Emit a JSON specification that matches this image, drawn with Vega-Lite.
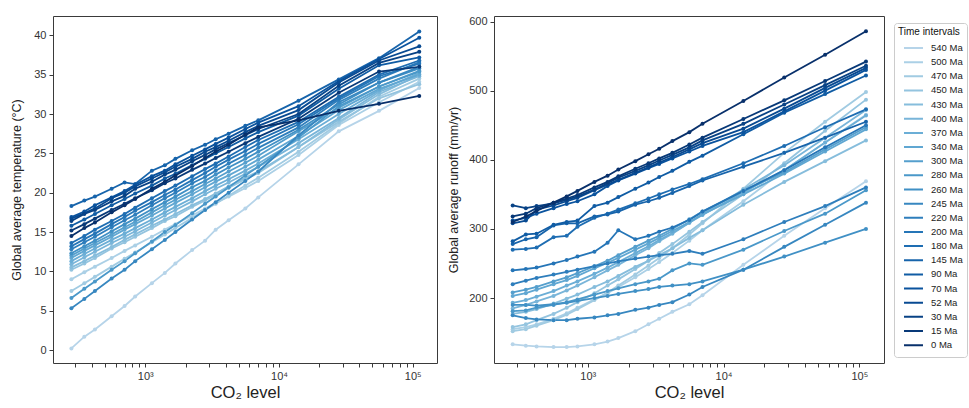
{
"$schema":"https://vega.github.io/schema/vega-lite/v6.json",
"autosize":{"type":"pad"},
"padding":{"left":10,"top":15,"right":0,"bottom":0},
"spacing":9,
"data":{"values":[
{"t":"540 Ma","c":280,"T":0.2,"R":133},{"t":"540 Ma","c":350,"T":1.7,"R":131},{"t":"540 Ma","c":420,"T":2.6,"R":130},{"t":"540 Ma","c":560,"T":4.3,"R":129},{"t":"540 Ma","c":700,"T":5.6,"R":129},{"t":"540 Ma","c":840,"T":6.8,"R":130},{"t":"540 Ma","c":1120,"T":8.5,"R":133},{"t":"540 Ma","c":1400,"T":9.8,"R":137},{"t":"540 Ma","c":1680,"T":11.0,"R":142},{"t":"540 Ma","c":2240,"T":12.7,"R":152},{"t":"540 Ma","c":2800,"T":13.9,"R":162},{"t":"540 Ma","c":3360,"T":15.3,"R":170},{"t":"540 Ma","c":4200,"T":16.5,"R":180},{"t":"540 Ma","c":5600,"T":18.0,"R":191},{"t":"540 Ma","c":7000,"T":19.4,"R":204},{"t":"540 Ma","c":14000,"T":23.6,"R":248},{"t":"540 Ma","c":28000,"T":27.8,"R":290},{"t":"540 Ma","c":56000,"T":30.4,"R":330},{"t":"540 Ma","c":112000,"T":33.3,"R":369},
{"t":"500 Ma","c":280,"T":9.0,"R":155},{"t":"500 Ma","c":350,"T":9.9,"R":158},{"t":"500 Ma","c":420,"T":10.6,"R":162},{"t":"500 Ma","c":560,"T":11.7,"R":170},{"t":"500 Ma","c":700,"T":12.6,"R":178},{"t":"500 Ma","c":840,"T":13.3,"R":186},{"t":"500 Ma","c":1120,"T":14.4,"R":198},{"t":"500 Ma","c":1400,"T":15.3,"R":207},{"t":"500 Ma","c":1680,"T":16.0,"R":216},{"t":"500 Ma","c":2240,"T":17.1,"R":230},{"t":"500 Ma","c":2800,"T":18.0,"R":242},{"t":"500 Ma","c":3360,"T":18.7,"R":252},{"t":"500 Ma","c":4200,"T":19.5,"R":265},{"t":"500 Ma","c":5600,"T":20.6,"R":283},{"t":"500 Ma","c":7000,"T":21.5,"R":298},{"t":"500 Ma","c":14000,"T":24.8,"R":340},{"t":"500 Ma","c":28000,"T":28.6,"R":385},{"t":"500 Ma","c":56000,"T":31.5,"R":425},{"t":"500 Ma","c":112000,"T":34.1,"R":465},
{"t":"470 Ma","c":280,"T":7.5,"R":152},{"t":"470 Ma","c":350,"T":8.5,"R":155},{"t":"470 Ma","c":420,"T":9.3,"R":160},{"t":"470 Ma","c":560,"T":10.6,"R":168},{"t":"470 Ma","c":700,"T":11.6,"R":176},{"t":"470 Ma","c":840,"T":12.4,"R":184},{"t":"470 Ma","c":1120,"T":13.7,"R":197},{"t":"470 Ma","c":1400,"T":14.7,"R":208},{"t":"470 Ma","c":1680,"T":15.5,"R":218},{"t":"470 Ma","c":2240,"T":16.8,"R":234},{"t":"470 Ma","c":2800,"T":17.8,"R":247},{"t":"470 Ma","c":3360,"T":18.6,"R":258},{"t":"470 Ma","c":4200,"T":19.6,"R":272},{"t":"470 Ma","c":5600,"T":20.9,"R":292},{"t":"470 Ma","c":7000,"T":21.9,"R":308},{"t":"470 Ma","c":14000,"T":25.2,"R":358},{"t":"470 Ma","c":28000,"T":28.8,"R":410},{"t":"470 Ma","c":56000,"T":32.2,"R":455},{"t":"470 Ma","c":112000,"T":34.5,"R":498},
{"t":"450 Ma","c":280,"T":10.2,"R":158},{"t":"450 Ma","c":350,"T":11.0,"R":162},{"t":"450 Ma","c":420,"T":11.7,"R":168},{"t":"450 Ma","c":560,"T":12.9,"R":177},{"t":"450 Ma","c":700,"T":13.7,"R":186},{"t":"450 Ma","c":840,"T":14.4,"R":194},{"t":"450 Ma","c":1120,"T":15.5,"R":207},{"t":"450 Ma","c":1400,"T":16.4,"R":218},{"t":"450 Ma","c":1680,"T":17.0,"R":227},{"t":"450 Ma","c":2240,"T":18.2,"R":242},{"t":"450 Ma","c":2800,"T":19.0,"R":254},{"t":"450 Ma","c":3360,"T":19.7,"R":265},{"t":"450 Ma","c":4200,"T":20.6,"R":278},{"t":"450 Ma","c":5600,"T":21.7,"R":296},{"t":"450 Ma","c":7000,"T":22.5,"R":310},{"t":"450 Ma","c":14000,"T":25.8,"R":350},{"t":"450 Ma","c":28000,"T":29.0,"R":395},{"t":"450 Ma","c":56000,"T":32.0,"R":442},{"t":"450 Ma","c":112000,"T":33.8,"R":487},
{"t":"430 Ma","c":280,"T":10.5,"R":177},{"t":"430 Ma","c":350,"T":11.3,"R":180},{"t":"430 Ma","c":420,"T":12.0,"R":184},{"t":"430 Ma","c":560,"T":13.1,"R":192},{"t":"430 Ma","c":700,"T":14.0,"R":199},{"t":"430 Ma","c":840,"T":14.7,"R":205},{"t":"430 Ma","c":1120,"T":15.8,"R":216},{"t":"430 Ma","c":1400,"T":16.6,"R":224},{"t":"430 Ma","c":1680,"T":17.3,"R":232},{"t":"430 Ma","c":2240,"T":18.4,"R":245},{"t":"430 Ma","c":2800,"T":19.2,"R":254},{"t":"430 Ma","c":3360,"T":19.9,"R":262},{"t":"430 Ma","c":4200,"T":20.8,"R":272},{"t":"430 Ma","c":5600,"T":21.9,"R":287},{"t":"430 Ma","c":7000,"T":22.7,"R":298},{"t":"430 Ma","c":14000,"T":25.8,"R":335},{"t":"430 Ma","c":28000,"T":29.3,"R":368},{"t":"430 Ma","c":56000,"T":32.5,"R":398},{"t":"430 Ma","c":112000,"T":35.0,"R":428},
{"t":"400 Ma","c":280,"T":10.9,"R":185},{"t":"400 Ma","c":350,"T":11.8,"R":190},{"t":"400 Ma","c":420,"T":12.5,"R":195},{"t":"400 Ma","c":560,"T":13.6,"R":203},{"t":"400 Ma","c":700,"T":14.4,"R":211},{"t":"400 Ma","c":840,"T":15.1,"R":218},{"t":"400 Ma","c":1120,"T":16.2,"R":230},{"t":"400 Ma","c":1400,"T":17.1,"R":240},{"t":"400 Ma","c":1680,"T":17.8,"R":248},{"t":"400 Ma","c":2240,"T":18.9,"R":262},{"t":"400 Ma","c":2800,"T":19.8,"R":272},{"t":"400 Ma","c":3360,"T":20.5,"R":282},{"t":"400 Ma","c":4200,"T":21.3,"R":293},{"t":"400 Ma","c":5600,"T":22.4,"R":309},{"t":"400 Ma","c":7000,"T":23.3,"R":322},{"t":"400 Ma","c":14000,"T":26.3,"R":357},{"t":"400 Ma","c":28000,"T":29.5,"R":392},{"t":"400 Ma","c":56000,"T":32.8,"R":432},{"t":"400 Ma","c":112000,"T":34.8,"R":472},
{"t":"370 Ma","c":280,"T":11.3,"R":193},{"t":"370 Ma","c":350,"T":12.2,"R":197},{"t":"370 Ma","c":420,"T":12.9,"R":202},{"t":"370 Ma","c":560,"T":14.0,"R":210},{"t":"370 Ma","c":700,"T":14.8,"R":218},{"t":"370 Ma","c":840,"T":15.5,"R":224},{"t":"370 Ma","c":1120,"T":16.6,"R":235},{"t":"370 Ma","c":1400,"T":17.5,"R":244},{"t":"370 Ma","c":1680,"T":18.2,"R":252},{"t":"370 Ma","c":2240,"T":19.3,"R":265},{"t":"370 Ma","c":2800,"T":20.2,"R":275},{"t":"370 Ma","c":3360,"T":20.9,"R":284},{"t":"370 Ma","c":4200,"T":21.7,"R":294},{"t":"370 Ma","c":5600,"T":22.8,"R":309},{"t":"370 Ma","c":7000,"T":23.7,"R":320},{"t":"370 Ma","c":14000,"T":26.8,"R":353},{"t":"370 Ma","c":28000,"T":30.0,"R":385},{"t":"370 Ma","c":56000,"T":33.0,"R":425},{"t":"370 Ma","c":112000,"T":35.2,"R":464},
{"t":"340 Ma","c":280,"T":11.7,"R":203},{"t":"340 Ma","c":350,"T":12.6,"R":207},{"t":"340 Ma","c":420,"T":13.3,"R":212},{"t":"340 Ma","c":560,"T":14.4,"R":220},{"t":"340 Ma","c":700,"T":15.3,"R":226},{"t":"340 Ma","c":840,"T":16.0,"R":232},{"t":"340 Ma","c":1120,"T":17.1,"R":243},{"t":"340 Ma","c":1400,"T":18.0,"R":251},{"t":"340 Ma","c":1680,"T":18.7,"R":258},{"t":"340 Ma","c":2240,"T":19.8,"R":270},{"t":"340 Ma","c":2800,"T":20.7,"R":279},{"t":"340 Ma","c":3360,"T":21.4,"R":287},{"t":"340 Ma","c":4200,"T":22.2,"R":297},{"t":"340 Ma","c":5600,"T":23.3,"R":310},{"t":"340 Ma","c":7000,"T":24.2,"R":321},{"t":"340 Ma","c":14000,"T":27.2,"R":350},{"t":"340 Ma","c":28000,"T":30.5,"R":380},{"t":"340 Ma","c":56000,"T":33.2,"R":412},{"t":"340 Ma","c":112000,"T":35.0,"R":444},
{"t":"300 Ma","c":280,"T":12.0,"R":208},{"t":"300 Ma","c":350,"T":12.9,"R":212},{"t":"300 Ma","c":420,"T":13.6,"R":216},{"t":"300 Ma","c":560,"T":14.7,"R":224},{"t":"300 Ma","c":700,"T":15.6,"R":230},{"t":"300 Ma","c":840,"T":16.3,"R":236},{"t":"300 Ma","c":1120,"T":17.5,"R":246},{"t":"300 Ma","c":1400,"T":18.4,"R":254},{"t":"300 Ma","c":1680,"T":19.1,"R":262},{"t":"300 Ma","c":2240,"T":20.2,"R":274},{"t":"300 Ma","c":2800,"T":21.1,"R":283},{"t":"300 Ma","c":3360,"T":21.8,"R":290},{"t":"300 Ma","c":4200,"T":22.7,"R":300},{"t":"300 Ma","c":5600,"T":23.8,"R":314},{"t":"300 Ma","c":7000,"T":24.7,"R":325},{"t":"300 Ma","c":14000,"T":27.8,"R":355},{"t":"300 Ma","c":28000,"T":30.8,"R":382},{"t":"300 Ma","c":56000,"T":33.5,"R":415},{"t":"300 Ma","c":112000,"T":35.5,"R":447},
{"t":"280 Ma","c":280,"T":6.6,"R":181},{"t":"280 Ma","c":350,"T":7.8,"R":182},{"t":"280 Ma","c":420,"T":8.7,"R":186},{"t":"280 Ma","c":560,"T":10.2,"R":190},{"t":"280 Ma","c":700,"T":11.3,"R":194},{"t":"280 Ma","c":840,"T":12.3,"R":198},{"t":"280 Ma","c":1120,"T":13.8,"R":205},{"t":"280 Ma","c":1400,"T":15.0,"R":210},{"t":"280 Ma","c":1680,"T":15.9,"R":214},{"t":"280 Ma","c":2240,"T":17.4,"R":220},{"t":"280 Ma","c":2800,"T":18.6,"R":224},{"t":"280 Ma","c":3360,"T":19.5,"R":228},{"t":"280 Ma","c":4200,"T":20.7,"R":240},{"t":"280 Ma","c":5600,"T":22.2,"R":250},{"t":"280 Ma","c":7000,"T":23.3,"R":248},{"t":"280 Ma","c":14000,"T":27.0,"R":270},{"t":"280 Ma","c":28000,"T":31.0,"R":297},{"t":"280 Ma","c":56000,"T":33.5,"R":322},{"t":"280 Ma","c":112000,"T":35.4,"R":356},
{"t":"260 Ma","c":280,"T":12.3,"R":190},{"t":"260 Ma","c":350,"T":13.2,"R":190},{"t":"260 Ma","c":420,"T":13.9,"R":189},{"t":"260 Ma","c":560,"T":15.1,"R":191},{"t":"260 Ma","c":700,"T":16.0,"R":193},{"t":"260 Ma","c":840,"T":16.7,"R":196},{"t":"260 Ma","c":1120,"T":17.9,"R":200},{"t":"260 Ma","c":1400,"T":18.8,"R":203},{"t":"260 Ma","c":1680,"T":19.5,"R":206},{"t":"260 Ma","c":2240,"T":20.7,"R":210},{"t":"260 Ma","c":2800,"T":21.5,"R":213},{"t":"260 Ma","c":3360,"T":22.3,"R":216},{"t":"260 Ma","c":4200,"T":23.2,"R":218},{"t":"260 Ma","c":5600,"T":24.3,"R":220},{"t":"260 Ma","c":7000,"T":25.2,"R":224},{"t":"260 Ma","c":14000,"T":28.0,"R":241},{"t":"260 Ma","c":28000,"T":31.2,"R":260},{"t":"260 Ma","c":56000,"T":34.0,"R":280},{"t":"260 Ma","c":112000,"T":35.8,"R":300},
{"t":"245 Ma","c":280,"T":5.3,"R":175},{"t":"245 Ma","c":350,"T":6.5,"R":171},{"t":"245 Ma","c":420,"T":7.5,"R":169},{"t":"245 Ma","c":560,"T":9.1,"R":168},{"t":"245 Ma","c":700,"T":10.2,"R":168},{"t":"245 Ma","c":840,"T":11.3,"R":170},{"t":"245 Ma","c":1120,"T":12.8,"R":172},{"t":"245 Ma","c":1400,"T":14.0,"R":175},{"t":"245 Ma","c":1680,"T":15.0,"R":177},{"t":"245 Ma","c":2240,"T":16.6,"R":183},{"t":"245 Ma","c":2800,"T":17.8,"R":186},{"t":"245 Ma","c":3360,"T":18.8,"R":190},{"t":"245 Ma","c":4200,"T":20.0,"R":194},{"t":"245 Ma","c":5600,"T":21.5,"R":205},{"t":"245 Ma","c":7000,"T":22.7,"R":216},{"t":"245 Ma","c":14000,"T":27.3,"R":241},{"t":"245 Ma","c":28000,"T":31.5,"R":274},{"t":"245 Ma","c":56000,"T":34.0,"R":306},{"t":"245 Ma","c":112000,"T":36.0,"R":338},
{"t":"220 Ma","c":280,"T":12.8,"R":220},{"t":"220 Ma","c":350,"T":13.7,"R":225},{"t":"220 Ma","c":420,"T":14.4,"R":229},{"t":"220 Ma","c":560,"T":15.6,"R":234},{"t":"220 Ma","c":700,"T":16.5,"R":238},{"t":"220 Ma","c":840,"T":17.2,"R":241},{"t":"220 Ma","c":1120,"T":18.4,"R":246},{"t":"220 Ma","c":1400,"T":19.3,"R":250},{"t":"220 Ma","c":1680,"T":20.0,"R":253},{"t":"220 Ma","c":2240,"T":21.2,"R":257},{"t":"220 Ma","c":2800,"T":22.0,"R":260},{"t":"220 Ma","c":3360,"T":22.8,"R":262},{"t":"220 Ma","c":4200,"T":23.7,"R":264},{"t":"220 Ma","c":5600,"T":24.8,"R":268},{"t":"220 Ma","c":7000,"T":25.7,"R":264},{"t":"220 Ma","c":14000,"T":28.3,"R":285},{"t":"220 Ma","c":28000,"T":31.8,"R":310},{"t":"220 Ma","c":56000,"T":34.5,"R":333},{"t":"220 Ma","c":112000,"T":36.6,"R":360},
{"t":"200 Ma","c":280,"T":13.2,"R":240},{"t":"200 Ma","c":350,"T":14.1,"R":242},{"t":"200 Ma","c":420,"T":14.8,"R":244},{"t":"200 Ma","c":560,"T":16.0,"R":250},{"t":"200 Ma","c":700,"T":16.9,"R":255},{"t":"200 Ma","c":840,"T":17.7,"R":260},{"t":"200 Ma","c":1120,"T":18.8,"R":267},{"t":"200 Ma","c":1400,"T":19.7,"R":280},{"t":"200 Ma","c":1680,"T":20.4,"R":298},{"t":"200 Ma","c":2240,"T":21.6,"R":285},{"t":"200 Ma","c":2800,"T":22.5,"R":290},{"t":"200 Ma","c":3360,"T":23.3,"R":296},{"t":"200 Ma","c":4200,"T":24.2,"R":302},{"t":"200 Ma","c":5600,"T":25.3,"R":313},{"t":"200 Ma","c":7000,"T":26.2,"R":325},{"t":"200 Ma","c":14000,"T":28.7,"R":355},{"t":"200 Ma","c":28000,"T":32.0,"R":385},{"t":"200 Ma","c":56000,"T":34.8,"R":418},{"t":"200 Ma","c":112000,"T":36.4,"R":450},
{"t":"180 Ma","c":280,"T":13.6,"R":270},{"t":"180 Ma","c":350,"T":14.5,"R":271},{"t":"180 Ma","c":420,"T":15.3,"R":273},{"t":"180 Ma","c":560,"T":16.4,"R":288},{"t":"180 Ma","c":700,"T":17.3,"R":290},{"t":"180 Ma","c":840,"T":18.1,"R":303},{"t":"180 Ma","c":1120,"T":19.3,"R":316},{"t":"180 Ma","c":1400,"T":20.2,"R":322},{"t":"180 Ma","c":1680,"T":20.9,"R":328},{"t":"180 Ma","c":2240,"T":22.1,"R":337},{"t":"180 Ma","c":2800,"T":23.0,"R":344},{"t":"180 Ma","c":3360,"T":23.7,"R":350},{"t":"180 Ma","c":4200,"T":24.6,"R":357},{"t":"180 Ma","c":5600,"T":25.8,"R":365},{"t":"180 Ma","c":7000,"T":26.7,"R":372},{"t":"180 Ma","c":14000,"T":29.0,"R":395},{"t":"180 Ma","c":28000,"T":32.2,"R":420},{"t":"180 Ma","c":56000,"T":35.0,"R":447},{"t":"180 Ma","c":112000,"T":36.8,"R":473},
{"t":"145 Ma","c":280,"T":18.3,"R":278},{"t":"145 Ma","c":350,"T":19.0,"R":285},{"t":"145 Ma","c":420,"T":19.5,"R":288},{"t":"145 Ma","c":560,"T":20.5,"R":305},{"t":"145 Ma","c":700,"T":21.3,"R":308},{"t":"145 Ma","c":840,"T":21.1,"R":308},{"t":"145 Ma","c":1120,"T":22.8,"R":318},{"t":"145 Ma","c":1400,"T":23.5,"R":321},{"t":"145 Ma","c":1680,"T":24.3,"R":325},{"t":"145 Ma","c":2240,"T":25.4,"R":335},{"t":"145 Ma","c":2800,"T":26.1,"R":340},{"t":"145 Ma","c":3360,"T":26.8,"R":345},{"t":"145 Ma","c":4200,"T":27.5,"R":352},{"t":"145 Ma","c":5600,"T":28.5,"R":362},{"t":"145 Ma","c":7000,"T":29.2,"R":370},{"t":"145 Ma","c":14000,"T":31.7,"R":390},{"t":"145 Ma","c":28000,"T":34.4,"R":410},{"t":"145 Ma","c":56000,"T":37.1,"R":432},{"t":"145 Ma","c":112000,"T":40.5,"R":455},
{"t":"90 Ma","c":280,"T":15.8,"R":282},{"t":"90 Ma","c":350,"T":16.6,"R":292},{"t":"90 Ma","c":420,"T":17.3,"R":293},{"t":"90 Ma","c":560,"T":18.4,"R":306},{"t":"90 Ma","c":700,"T":19.2,"R":310},{"t":"90 Ma","c":840,"T":19.9,"R":312},{"t":"90 Ma","c":1120,"T":20.9,"R":333},{"t":"90 Ma","c":1400,"T":21.8,"R":338},{"t":"90 Ma","c":1680,"T":22.4,"R":346},{"t":"90 Ma","c":2240,"T":23.5,"R":358},{"t":"90 Ma","c":2800,"T":24.3,"R":367},{"t":"90 Ma","c":3360,"T":25.0,"R":375},{"t":"90 Ma","c":4200,"T":25.8,"R":384},{"t":"90 Ma","c":5600,"T":26.9,"R":397},{"t":"90 Ma","c":7000,"T":27.7,"R":406},{"t":"90 Ma","c":14000,"T":29.8,"R":437},{"t":"90 Ma","c":28000,"T":33.2,"R":468},{"t":"90 Ma","c":56000,"T":36.2,"R":495},{"t":"90 Ma","c":112000,"T":37.2,"R":522},
{"t":"70 Ma","c":280,"T":16.9,"R":312},{"t":"70 Ma","c":350,"T":17.6,"R":316},{"t":"70 Ma","c":420,"T":18.4,"R":322},{"t":"70 Ma","c":560,"T":19.4,"R":330},{"t":"70 Ma","c":700,"T":20.2,"R":336},{"t":"70 Ma","c":840,"T":21.0,"R":340},{"t":"70 Ma","c":1120,"T":22.1,"R":350},{"t":"70 Ma","c":1400,"T":22.8,"R":362},{"t":"70 Ma","c":1680,"T":23.6,"R":370},{"t":"70 Ma","c":2240,"T":24.7,"R":380},{"t":"70 Ma","c":2800,"T":25.5,"R":388},{"t":"70 Ma","c":3360,"T":26.2,"R":394},{"t":"70 Ma","c":4200,"T":27.0,"R":402},{"t":"70 Ma","c":5600,"T":28.1,"R":412},{"t":"70 Ma","c":7000,"T":28.9,"R":420},{"t":"70 Ma","c":14000,"T":31.0,"R":440},{"t":"70 Ma","c":28000,"T":34.2,"R":470},{"t":"70 Ma","c":56000,"T":37.0,"R":500},{"t":"70 Ma","c":112000,"T":39.7,"R":530},
{"t":"52 Ma","c":280,"T":16.7,"R":308},{"t":"52 Ma","c":350,"T":17.4,"R":312},{"t":"52 Ma","c":420,"T":18.0,"R":328},{"t":"52 Ma","c":560,"T":19.3,"R":334},{"t":"52 Ma","c":700,"T":20.0,"R":340},{"t":"52 Ma","c":840,"T":20.8,"R":345},{"t":"52 Ma","c":1120,"T":21.8,"R":356},{"t":"52 Ma","c":1400,"T":22.6,"R":364},{"t":"52 Ma","c":1680,"T":23.3,"R":371},{"t":"52 Ma","c":2240,"T":24.3,"R":381},{"t":"52 Ma","c":2800,"T":25.2,"R":389},{"t":"52 Ma","c":3360,"T":25.8,"R":396},{"t":"52 Ma","c":4200,"T":26.6,"R":404},{"t":"52 Ma","c":5600,"T":27.7,"R":415},{"t":"52 Ma","c":7000,"T":28.5,"R":424},{"t":"52 Ma","c":14000,"T":30.5,"R":445},{"t":"52 Ma","c":28000,"T":34.0,"R":474},{"t":"52 Ma","c":56000,"T":36.8,"R":504},{"t":"52 Ma","c":112000,"T":38.6,"R":533},
{"t":"30 Ma","c":280,"T":16.4,"R":334},{"t":"30 Ma","c":350,"T":17.3,"R":330},{"t":"30 Ma","c":420,"T":17.8,"R":333},{"t":"30 Ma","c":560,"T":18.9,"R":337},{"t":"30 Ma","c":700,"T":19.6,"R":342},{"t":"30 Ma","c":840,"T":20.5,"R":347},{"t":"30 Ma","c":1120,"T":21.4,"R":357},{"t":"30 Ma","c":1400,"T":22.3,"R":366},{"t":"30 Ma","c":1680,"T":22.9,"R":374},{"t":"30 Ma","c":2240,"T":24.0,"R":384},{"t":"30 Ma","c":2800,"T":24.8,"R":392},{"t":"30 Ma","c":3360,"T":25.5,"R":399},{"t":"30 Ma","c":4200,"T":26.3,"R":407},{"t":"30 Ma","c":5600,"T":27.3,"R":418},{"t":"30 Ma","c":7000,"T":28.1,"R":428},{"t":"30 Ma","c":14000,"T":30.0,"R":452},{"t":"30 Ma","c":28000,"T":33.6,"R":480},{"t":"30 Ma","c":56000,"T":36.5,"R":508},{"t":"30 Ma","c":112000,"T":37.9,"R":536},
{"t":"15 Ma","c":280,"T":15.2,"R":318},{"t":"15 Ma","c":350,"T":16.0,"R":322},{"t":"15 Ma","c":420,"T":16.7,"R":330},{"t":"15 Ma","c":560,"T":17.8,"R":338},{"t":"15 Ma","c":700,"T":18.6,"R":344},{"t":"15 Ma","c":840,"T":19.3,"R":349},{"t":"15 Ma","c":1120,"T":20.3,"R":360},{"t":"15 Ma","c":1400,"T":21.2,"R":368},{"t":"15 Ma","c":1680,"T":21.8,"R":376},{"t":"15 Ma","c":2240,"T":22.9,"R":387},{"t":"15 Ma","c":2800,"T":23.7,"R":395},{"t":"15 Ma","c":3360,"T":24.4,"R":402},{"t":"15 Ma","c":4200,"T":25.2,"R":410},{"t":"15 Ma","c":5600,"T":26.3,"R":422},{"t":"15 Ma","c":7000,"T":27.1,"R":432},{"t":"15 Ma","c":14000,"T":29.4,"R":459},{"t":"15 Ma","c":28000,"T":32.7,"R":486},{"t":"15 Ma","c":56000,"T":35.4,"R":514},{"t":"15 Ma","c":112000,"T":36.0,"R":542},
{"t":"0 Ma","c":280,"T":14.5,"R":310},{"t":"0 Ma","c":350,"T":15.5,"R":318},{"t":"0 Ma","c":420,"T":16.2,"R":326},{"t":"0 Ma","c":560,"T":17.5,"R":338},{"t":"0 Ma","c":700,"T":18.4,"R":347},{"t":"0 Ma","c":840,"T":19.2,"R":355},{"t":"0 Ma","c":1120,"T":20.5,"R":368},{"t":"0 Ma","c":1400,"T":21.4,"R":377},{"t":"0 Ma","c":1680,"T":22.2,"R":386},{"t":"0 Ma","c":2240,"T":23.4,"R":398},{"t":"0 Ma","c":2800,"T":24.4,"R":408},{"t":"0 Ma","c":3360,"T":25.2,"R":416},{"t":"0 Ma","c":4200,"T":26.1,"R":427},{"t":"0 Ma","c":5600,"T":27.4,"R":440},{"t":"0 Ma","c":7000,"T":28.3,"R":452},{"t":"0 Ma","c":14000,"T":29.2,"R":485},{"t":"0 Ma","c":28000,"T":30.4,"R":519},{"t":"0 Ma","c":56000,"T":31.3,"R":552},{"t":"0 Ma","c":112000,"T":32.3,"R":586}
]},
"config":{
 "font":"Liberation Sans",
 "view":{"stroke":"#3a3a3a","strokeWidth":1},
 "axis":{"grid":false,"domain":false,"tickColor":"#3a3a3a","tickSize":4,"labelFontSize":11,"labelColor":"#333","titleFontSize":12.5,"titleFontWeight":"normal","titleColor":"#222","labelPadding":3}
},
"hconcat":[
 {"width":384,"height":347,
  "encoding":{
   "x":{"field":"c","type":"quantitative","scale":{"type":"log","domain":[204,152000],"nice":false},
        "axis":{"values":[300,400,500,600,700,800,900,1000,2000,3000,4000,5000,6000,7000,8000,9000,10000,20000,30000,40000,50000,60000,70000,80000,90000,100000],
                "labelExpr":"datum.value == 1000 ? '10³' : datum.value == 10000 ? '10⁴' : datum.value == 100000 ? '10⁵' : ''",
                "labelOverlap":false,"labelFlush":false,"title":"CO₂ level","titleFontSize":16.5,"titlePadding":3}},
   "y":{"field":"T","type":"quantitative","scale":{"domain":[-1.65,42.46],"nice":false,"zero":false},
        "axis":{"values":[0,5,10,15,20,25,30,35,40],"title":"Global average temperature (°C)","titlePadding":10}},
   "color":{"field":"t","type":"nominal",
     "scale":{"domain":["540 Ma","500 Ma","470 Ma","450 Ma","430 Ma","400 Ma","370 Ma","340 Ma","300 Ma","280 Ma","260 Ma","245 Ma","220 Ma","200 Ma","180 Ma","145 Ma","90 Ma","70 Ma","52 Ma","30 Ma","15 Ma","0 Ma"],
              "range":["#b6d4e9","#abd0e6","#a1cbe2","#94c4df","#86bddc","#79b5d9","#6baed6","#60a7d2","#559fcd","#4a98c9","#4090c5","#3787c0","#2e7ebc","#2575b7","#1e6db2","#1764ab","#105ca4","#0a539e","#084a92","#084285","#083978","#08306b"]},
     "legend":{"title":"Time intervals","orient":"none","legendX":841,"legendY":7,"strokeColor":"#cccccc","fillColor":"#ffffff","cornerRadius":3,"padding":4,
               "titleFontSize":10,"titleFontWeight":"normal","titleColor":"#111","titlePadding":4,"labelFontSize":9.5,"labelColor":"#222",
               "symbolType":"stroke","symbolStrokeWidth":2,"symbolSize":360,"clipHeight":14,"rowPadding":0.15,"labelOffset":7,"symbolOffset":5}}
  },
  "layer":[{"mark":{"type":"line","strokeWidth":1.8}},{"mark":{"type":"point","filled":true,"size":16,"opacity":1}}]
 },
 {"width":390,"height":347,
  "encoding":{
   "x":{"field":"c","type":"quantitative","scale":{"type":"log","domain":[204,152000],"nice":false},
        "axis":{"values":[300,400,500,600,700,800,900,1000,2000,3000,4000,5000,6000,7000,8000,9000,10000,20000,30000,40000,50000,60000,70000,80000,90000,100000],
                "labelExpr":"datum.value == 1000 ? '10³' : datum.value == 10000 ? '10⁴' : datum.value == 100000 ? '10⁵' : ''",
                "labelOverlap":false,"labelFlush":false,"title":"CO₂ level","titleFontSize":16.5,"titlePadding":3}},
   "y":{"field":"R","type":"quantitative","scale":{"domain":[106,608],"nice":false,"zero":false},
        "axis":{"values":[200,300,400,500,600],"title":"Global average runoff (mm/yr)","titlePadding":8}},
   "color":{"field":"t","type":"nominal"}
  },
  "layer":[{"mark":{"type":"line","strokeWidth":1.8}},{"mark":{"type":"point","filled":true,"size":16,"opacity":1}}]
 }
]
}
